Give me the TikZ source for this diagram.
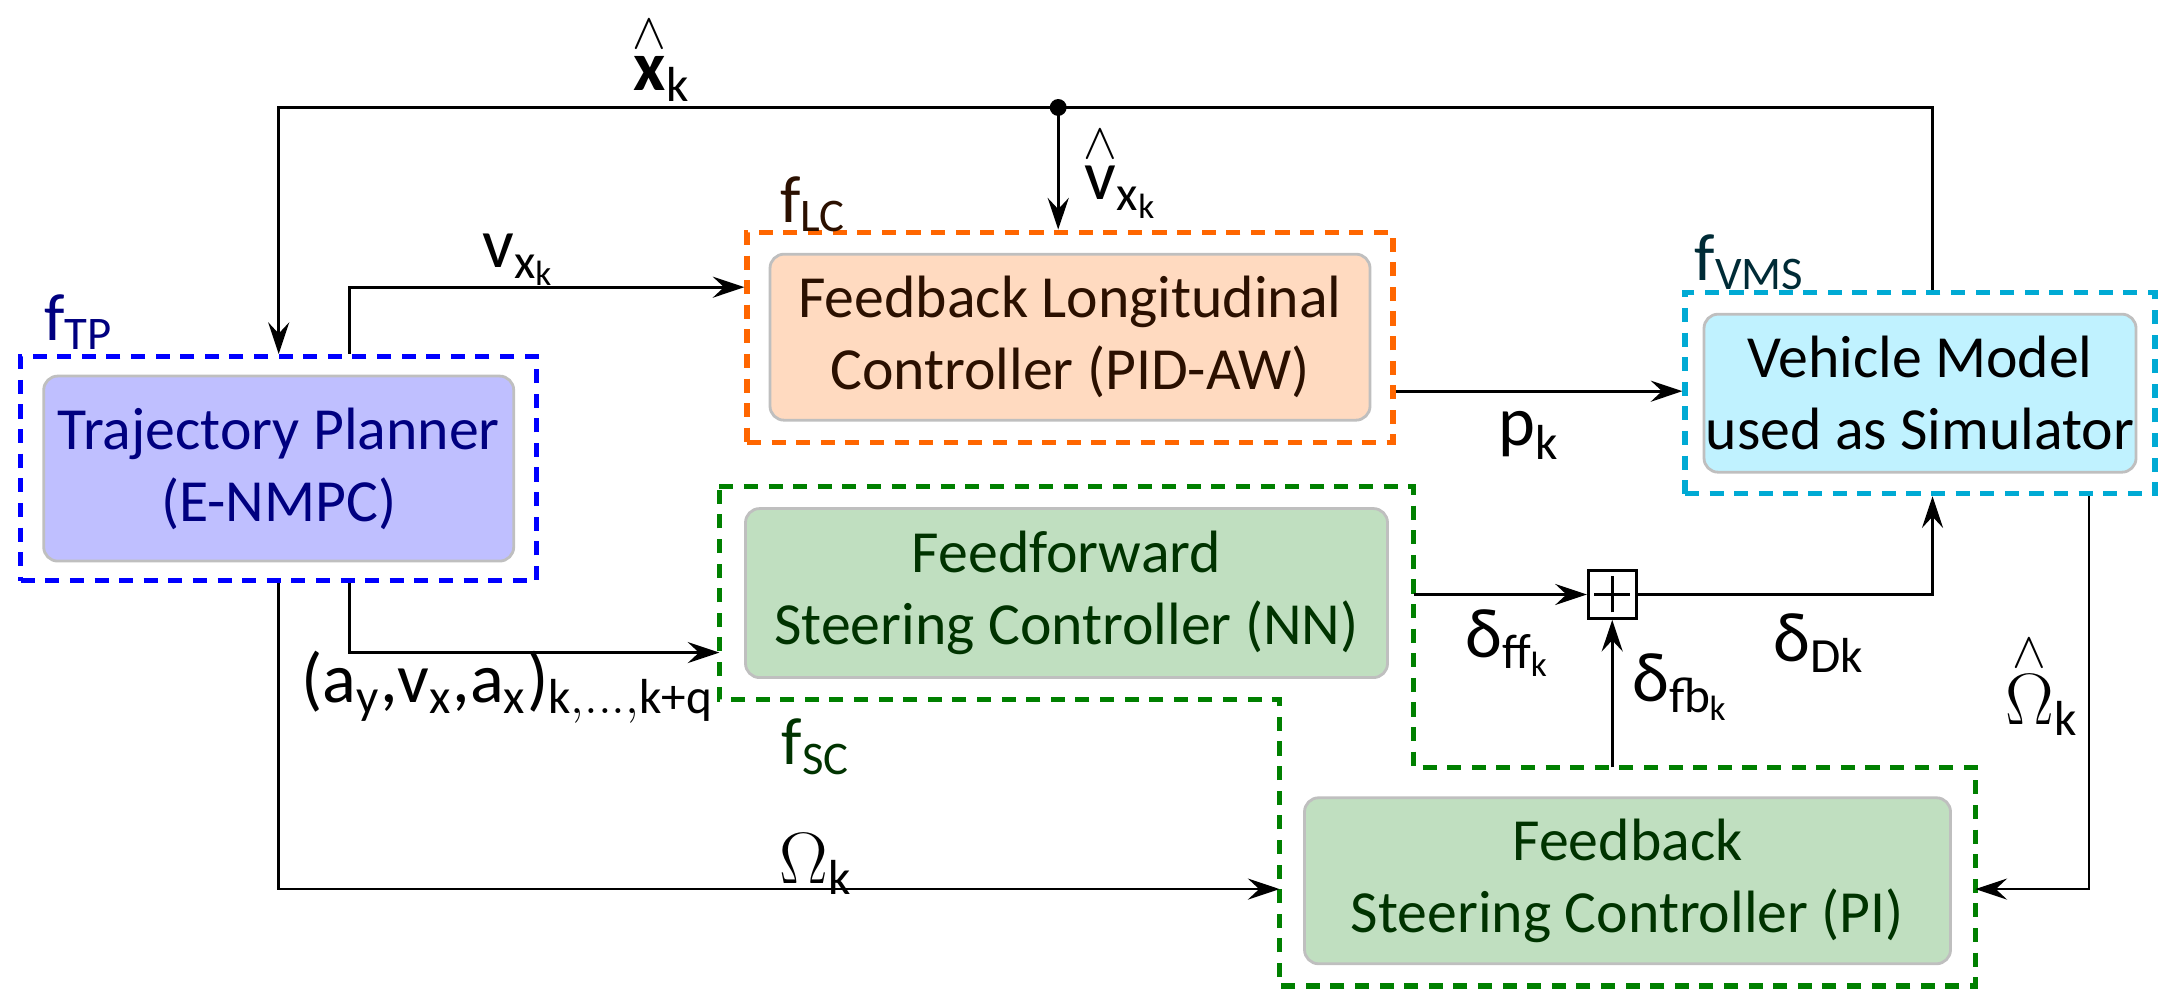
\documentclass[tikz,border=0pt]{standalone}
\usepackage{amsmath}
\usepackage{fontspec}
\setmainfont{Carlito}
\usetikzlibrary{arrows.meta}

\definecolor{tpline}{HTML}{0000FF}
\definecolor{tpfill}{HTML}{BFBFFF}
\definecolor{tptext}{HTML}{000080}
\definecolor{lcline}{HTML}{FF6600}
\definecolor{lcfill}{HTML}{FFDAC0}
\definecolor{lctext}{HTML}{2B1000}
\definecolor{vmsline}{HTML}{00AAD4}
\definecolor{vmsfill}{HTML}{C0F2FF}
\definecolor{vmstext}{HTML}{002B36}
\definecolor{scline}{HTML}{008000}
\definecolor{scfill}{HTML}{C0DFC0}
\definecolor{sctext}{HTML}{003300}

% hat drawn as a free caret above the symbol
\newcommand{\esthat}[1]{\overset{\raisebox{-0.2ex}{$\scriptstyle\wedge$}}{#1}}

\begin{document}
\begin{tikzpicture}[
    link/.style={line width=0.8pt, -{Stealth[length=9pt,width=6pt,inset=3.2pt]}},
    frame/.style={line width=1.5pt, dash pattern=on 4pt off 3pt},
    block/.style={draw=black!25, line width=0.8pt, rounded corners=4pt, align=center, inner sep=0pt,
        font=\fontsize{17}{20.5}\selectfont},
    lbl/.style={inner sep=0pt, font=\fontsize{20}{20}\selectfont},
    tag/.style={inner sep=0pt, font=\fontsize{19}{19}\selectfont}
    ]
    \useasboundingbox (0,0) rectangle (21.69,9.97);

    % dashed frames
    \node[frame, draw=tpline, minimum width=5.16cm, minimum height=2.24cm] (tp) at (2.787,5.284) {};
    \node[frame, draw=lcline, minimum width=6.46cm, minimum height=2.10cm] (lc) at (10.700,6.598) {};
    \node[frame, draw=vmsline, minimum width=4.70cm, minimum height=2.01cm] (vms) at (19.200,6.038) {};
    \draw[frame, draw=scline] (7.193,5.104) -- (14.137,5.104) -- (14.137,2.296) -- (19.754,2.296)
        -- (19.754,0.111) -- (12.795,0.111) -- (12.795,2.974) -- (7.193,2.974) -- cycle;

    % blocks
    \node[block, fill=tpfill, text=tptext, minimum width=4.70cm, minimum height=1.85cm] (tpblk) at (tp) {Trajectory Planner\\(E-NMPC)};
    \node[block, fill=lcfill, text=lctext, minimum width=6.00cm, minimum height=1.66cm] (lcblk) at (lc) {Feedback Longitudinal\\Controller (PID-AW)};
    \node[block, fill=vmsfill, text=black, minimum width=4.32cm, minimum height=1.58cm] (vmsblk) at (vms) {Vehicle Model\\used as Simulator};
    \node[block, fill=scfill, text=sctext, minimum width=6.42cm, minimum height=1.69cm] (ff) at (10.665,4.039) {Feedforward\\Steering Controller (NN)};
    \node[block, fill=scfill, text=sctext, minimum width=6.46cm, minimum height=1.66cm] (fb) at (16.275,1.162) {Feedback\\Steering Controller (PI)};
    \node[draw, line width=0.8pt, minimum size=0.48cm, inner sep=0pt,
        path picture={\draw[line width=0.9pt] ([yshift=-1.8mm]path picture bounding box.center) -- ([yshift=1.8mm]path picture bounding box.center)
            ([xshift=-1.8mm]path picture bounding box.center) -- ([xshift=1.8mm]path picture bounding box.center);}] (plus) at (16.122,4.025) {};

    % frame labels
    \node[tag, text=tptext] (ftp) at (0.788,6.751) {f$_\text{TP}$};
    \node[tag, text=lctext] (flc) at (8.134,7.926) {f$_\text{LC}$};
    \node[tag, text=vmstext] (fvms) at (17.499,7.345) {f$_\text{VMS}$};
    \node[tag, text=sctext] (fsc) at (8.161,2.504) {f$_\text{SC}$};

    % points on the steering frame
    \coordinate (dot) at (10.582,8.895);
    \coordinate (ffin) at (7.193,3.444);
    \coordinate (ffout) at (14.137,4.025);
    \coordinate (fbout) at (16.122,2.296);
    \coordinate (fbin) at (19.754,1.079);
    \coordinate (fbleft) at (12.795,1.079);

    % connectors
    \draw[link] ([xshift=1.25mm]vms.north) |- (dot) -| (tp.north);
    \fill (dot) circle (2.4pt);
    \draw[link] (dot) -- (dot |- lc.north);
    \draw[link] ([xshift=7.1mm]tp.north) |- ([yshift=5mm]lc.west);
    \draw[link] ([yshift=-5.4mm]lc.east) -- ([yshift=-5.4mm]lc.east -| vms.west);
    \draw[link] ([xshift=7.1mm]tp.south) |- (ffin);
    \draw[link] (tp.south) |- (fbleft);
    \draw[link] (ffout) -- (plus.west);
    \draw[link] (fbout) -- (plus.south);
    \draw[link] (plus.east) -| ([xshift=1.25mm]vms.south);
    \draw[link] ([xshift=16.9mm]vms.south) |- (fbin);

    % signal labels
    \node[lbl, anchor=base] (xhat) at (6.612,9.06) {$\esthat{\textbf{x}}_\text{k}$};
    \node[lbl, anchor=base] (vhat) at (11.205,7.97) {$\esthat{\text{v}}_{\text{x}_\text{k}}$};
    \node[lbl] (vx) at (5.187,7.373) {$\text{v}_{\text{x}_\text{k}}$};
    \node[lbl] (pk) at (15.286,5.616) {$\text{p}_\text{k}$};
    \node[lbl] (avax) at (5.077,3.099) {\text{(}a$_\text{y}$,v$_\text{x}$,a$_\text{x}$)$_{\text{k},\ldots,\text{k+q}}$};
    \node[lbl] (dff) at (15.078,3.541) {δ$_{\text{ff}_\text{k}}$};
    \node[lbl] (dd) at (18.190,3.541) {δ$_\text{Dk}$};
    \node[lbl] (dfb) at (16.807,3.099) {δ$_{\text{fb}_\text{k}}$};
    \node[lbl, anchor=base] (omhat) at (20.417,2.72) {$\esthat{\Omega}_\text{k}$};
    \node[lbl] (om) at (8.161,1.328) {$\Omega_\text{k}$};
\end{tikzpicture}
\end{document}
